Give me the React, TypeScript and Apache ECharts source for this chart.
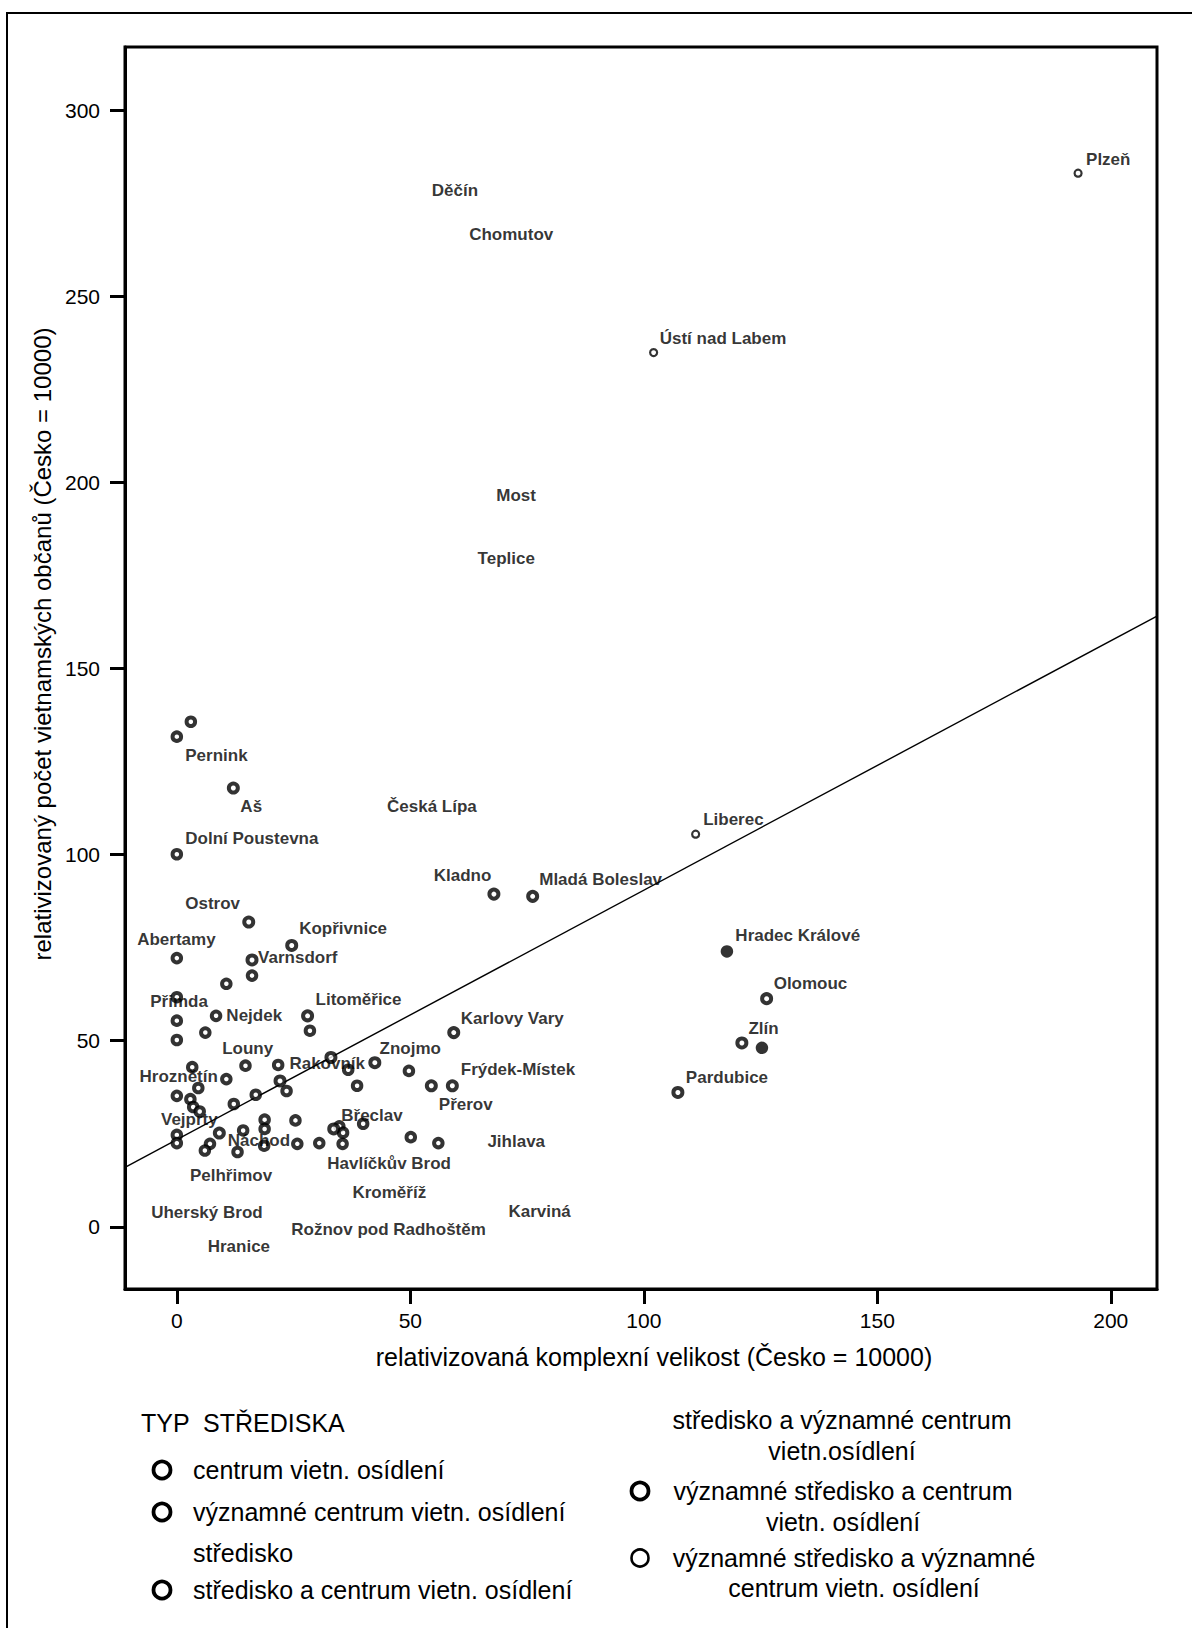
import React, { useEffect, useRef } from "react";
import * as echarts from "echarts";

const FONT = "'Liberation Sans', Arial, sans-serif";

const xTicks = [0, 50, 100, 150, 200];
const yTicks = [0, 50, 100, 150, 200, 250, 300];

const xTitle = "relativizovaná komplexní velikost (Česko = 10000)";
const yTitle = "relativizovaný počet vietnamských občanů (Česko = 10000)";

const typeNames = [
  "centrum vietn. osídlení",
  "významné centrum vietn. osídlení",
  "středisko",
  "středisko a centrum vietn. osídlení",
  "středisko a významné centrum vietn.osídlení",
  "významné středisko a centrum vietn. osídlení",
  "významné středisko a významné centrum vietn. osídlení",
];

// [relativizovaná komplexní velikost, relativizovaný počet vietnamských občanů]
const centrumPoints = [
  [8.4, 56.7], [6.1, 52.2], [0, 55.4], [0, 50.2], [14.7, 43.3], [21.7, 43.5],
  [36.7, 42.2], [49.7, 41.9], [38.6, 37.9], [3.3, 42.9], [10.6, 39.7], [23.5, 36.5],
  [16.9, 35.5], [12.2, 33.0], [4.6, 37.3], [0, 35.2], [2.9, 34.3], [3.5, 32.2],
  [4.9, 31.0], [18.8, 28.8], [25.4, 28.6], [18.8, 26.3], [14.2, 25.9], [0, 24.7],
  [0, 22.5], [7.1, 22.3], [6.0, 20.5], [13.0, 20.1], [18.7, 21.8], [25.8, 22.3],
  [30.5, 22.5], [34.8, 27.0], [35.6, 25.3], [35.5, 22.3], [39.9, 27.7], [50.1, 24.1],
  [56.0, 22.5], [28.5, 52.7],
];
const vyznamneCentrumPoints = [
  [3.0, 135.7], [0, 131.7], [0, 100.1], [0, 72.2], [16.1, 67.5], [10.6, 65.3], [0, 61.7],
];
const strediskoCentrumPoints = [
  [67.9, 89.4], [76.2, 88.8], [126.3, 61.3], [121.0, 49.4], [107.3, 36.1], [59.3, 52.2],
  [54.5, 37.9], [59.0, 37.9], [12.1, 117.9], [15.4, 81.9], [24.6, 75.6], [16.1, 71.7],
  [28.0, 56.7], [33.0, 45.5], [42.4, 44.1], [22.1, 39.2], [33.6, 26.3], [9.1, 25.2],
];
const vyznamneStrediskoCentrumPoints = [
  [117.8, 74.0], [125.3, 48.1],
];
const vyznamneStrediskoVyznamneCentrumPoints = [
  [193.0, 283.1], [102.1, 234.9], [111.1, 105.5],
];

// city labels: [name, x, y] (label anchor in data units)
const cityLabels: [string, number, number][] = [
  ["Plzeň", 194.6, 286.9],
  ["Děčín", 54.5, 278.5],
  ["Chomutov", 62.5, 266.5],
  ["Ústí nad Labem", 103.3, 238.8],
  ["Most", 68.3, 196.4],
  ["Teplice", 64.3, 179.6],
  ["Pernink", 1.7, 126.6],
  ["Aš", 13.5, 112.9],
  ["Česká Lípa", 44.9, 112.9],
  ["Dolní Poustevna", 1.7, 104.3],
  ["Liberec", 112.6, 109.4],
  ["Kladno", 54.9, 94.3],
  ["Mladá Boleslav", 77.5, 93.2],
  ["Ostrov", 1.7, 86.8],
  ["Kopřivnice", 26.1, 80.1],
  ["Abertamy", -8.6, 77.1],
  ["Varnsdorf", 17.3, 72.4],
  ["Hradec Králové", 119.5, 78.2],
  ["Olomouc", 127.7, 65.5],
  ["Zlín", 122.3, 53.4],
  ["Pardubice", 108.9, 40.2],
  ["Karlovy Vary", 60.7, 56.1],
  ["Frýdek-Místek", 60.7, 42.4],
  ["Přerov", 56.0, 32.8],
  ["Znojmo", 43.3, 48.0],
  ["Přimda", -5.8, 60.5],
  ["Nejdek", 10.5, 56.7],
  ["Litoměřice", 29.6, 61.0],
  ["Louny", 9.6, 47.8],
  ["Rakovník", 24.0, 44.0],
  ["Hroznětín", -8.1, 40.4],
  ["Vejprty", -3.5, 28.9],
  ["Břeclav", 35.1, 29.8],
  ["Náchod", 10.8, 23.2],
  ["Jihlava", 66.4, 22.9],
  ["Havlíčkův Brod", 32.1, 17.1],
  ["Pelhřimov", 2.7, 13.7],
  ["Kroměříž", 37.5, 9.2],
  ["Uherský Brod", -5.6, 3.8],
  ["Karviná", 70.9, 4.1],
  ["Rožnov pod Radhoštěm", 24.4, -0.7],
  ["Hranice", 6.5, -5.2],
];

// fitted line (end points at the plot edges)
const regressionLine = [
  [-11.1, 16.0],
  [209.9, 164.1],
];

const ring = { color: "#ffffff", borderColor: "#000000", borderWidth: 4 };

export default function App() {
  const ref = useRef<HTMLDivElement>(null);

  useEffect(() => {
    if (!ref.current) return;
    const chart = echarts.init(ref.current, null, { renderer: "svg" });

    const legendText = (text: string, x: number, y: number, align = "left") => ({
      type: "text",
      x,
      y,
      silent: true,
      style: {
        text,
        fontSize: 25,
        fontFamily: FONT,
        fill: "#000",
        align,
        verticalAlign: "middle",
      },
    });
    const legendCircle = (cx: number, cy: number, lw: number) => ({
      type: "circle",
      silent: true,
      shape: { cx, cy, r: 8.5 },
      style: { fill: "#fff", stroke: "#000", lineWidth: lw },
    });

    chart.setOption({
      animation: false,
      backgroundColor: "#ffffff",
      grid: {
        left: 125,
        top: 47,
        width: 1032,
        height: 1242,
        show: true,
        borderColor: "#000",
        borderWidth: 3,
        backgroundColor: "transparent",
      },
      xAxis: {
        type: "value",
        min: -11.1,
        max: 209.9,
        splitLine: { show: false },
        axisLine: { show: true, onZero: false, lineStyle: { color: "#000", width: 3 } },
        axisTick: {
          show: true,
          length: 15,
          customValues: xTicks,
          lineStyle: { color: "#000", width: 3 },
        },
        axisLabel: {
          customValues: xTicks,
          fontSize: 21,
          color: "#000",
          fontFamily: FONT,
          margin: 21,
        },
        name: xTitle,
        nameLocation: "middle",
        nameGap: 55,
        nameTextStyle: {
          fontSize: 25,
          color: "#000",
          fontFamily: FONT,
          padding: [0, 0, 0, 26],
        },
      },
      yAxis: {
        type: "value",
        min: -16.7,
        max: 317,
        splitLine: { show: false },
        axisLine: { show: true, onZero: false, lineStyle: { color: "#000", width: 3 } },
        axisTick: {
          show: true,
          length: 15,
          customValues: yTicks,
          lineStyle: { color: "#000", width: 3 },
        },
        axisLabel: {
          customValues: yTicks,
          fontSize: 21,
          color: "#000",
          fontFamily: FONT,
          margin: 25,
        },
        name: yTitle,
        nameLocation: "middle",
        nameGap: 69,
        nameTextStyle: {
          fontSize: 24,
          color: "#000",
          fontFamily: FONT,
          padding: [0, 0, 0, 48],
        },
      },
      series: [
        {
          type: "line",
          data: regressionLine,
          symbol: "none",
          silent: true,
          clip: true,
          lineStyle: { color: "#000", width: 1.4 },
          z: 1,
        },
        {
          name: typeNames[0],
          type: "scatter",
          data: centrumPoints,
          symbol: "circle",
          symbolSize: 8.5,
          itemStyle: ring,
          z: 3,
        },
        {
          name: typeNames[1],
          type: "scatter",
          data: vyznamneCentrumPoints,
          symbol: "circle",
          symbolSize: 8.5,
          itemStyle: ring,
          z: 3,
        },
        {
          name: typeNames[3],
          type: "scatter",
          data: strediskoCentrumPoints,
          symbol: "circle",
          symbolSize: 9,
          itemStyle: ring,
          z: 3,
        },
        {
          name: typeNames[5],
          type: "scatter",
          data: vyznamneStrediskoCentrumPoints,
          symbol: "circle",
          symbolSize: 12.5,
          itemStyle: { color: "#000" },
          z: 3,
        },
        {
          name: typeNames[6],
          type: "scatter",
          data: vyznamneStrediskoVyznamneCentrumPoints,
          symbol: "circle",
          symbolSize: 7,
          itemStyle: { color: "#fff", borderColor: "#000", borderWidth: 2.2 },
          z: 3,
        },
        {
          name: "labels",
          type: "scatter",
          data: cityLabels.map(([n, x, y]) => ({ name: n, value: [x, y] })),
          symbol: "circle",
          symbolSize: 1,
          itemStyle: { color: "rgba(0,0,0,0)" },
          silent: true,
          z: 4,
          label: {
            show: true,
            position: "right",
            distance: 0,
            formatter: "{b}",
            fontFamily: FONT,
            fontWeight: "bold",
            fontSize: 17,
            color: "#000",
          },
        },
      ],
      graphic: [
        {
          type: "rect",
          silent: true,
          shape: { x: 7, y: 13, width: 1400, height: 1800 },
          style: { fill: "none", stroke: "#000", lineWidth: 2 },
        },
        legendText("TYP  STŘEDISKA", 141, 1423),
        legendCircle(162, 1470, 3.8),
        legendText(typeNames[0], 193, 1470),
        legendCircle(162, 1512, 3.8),
        legendText(typeNames[1], 193, 1512),
        legendText(typeNames[2], 193, 1553),
        legendCircle(162, 1590, 3.8),
        legendText(typeNames[3], 193, 1590),
        legendText("středisko a významné centrum", 842, 1420, "center"),
        legendText("vietn.osídlení", 842, 1451, "center"),
        legendCircle(640, 1491, 3.8),
        legendText("významné středisko a centrum", 843, 1491, "center"),
        legendText("vietn. osídlení", 843, 1522, "center"),
        legendCircle(640, 1558, 2.6),
        legendText("významné středisko a významné", 854, 1558, "center"),
        legendText("centrum vietn. osídlení", 854, 1588, "center"),
      ],
    });

    return () => chart.dispose();
  }, []);

  return (
    <div
      ref={ref}
      style={{ position: "absolute", left: 0, top: 0, width: 1192, height: 1628, background: "#fff" }}
    />
  );
}
